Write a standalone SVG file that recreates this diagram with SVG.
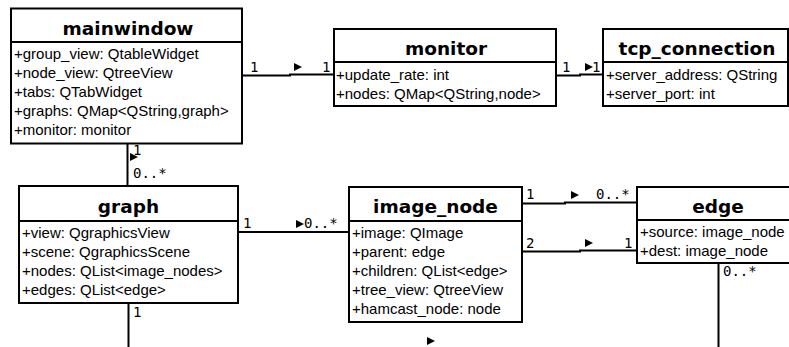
<svg xmlns="http://www.w3.org/2000/svg" xmlns:xlink="http://www.w3.org/1999/xlink" width="789" height="347" viewBox="0 0 789 347">
  <style>
    .box { fill: #ffffff; stroke: #000000; stroke-width: 2; }
    .sep { stroke: #000000; stroke-width: 2; }
    .title { font-family: "DejaVu Sans", "Liberation Sans", sans-serif; font-weight: bold; font-size: 18.5px; fill: #000000; text-anchor: middle; }
    .attr { font-family: "Liberation Sans", Arial, sans-serif; font-size: 15px; fill: #000000; }
    .wire { fill: none; stroke: #000000; stroke-width: 2; }
    .mult { font-family: "DejaVu Sans Mono", "Liberation Mono", monospace; font-size: 14px; fill: #000000; }
    .dir { fill: #000000; }
  </style>
  <defs>
    <!-- association reading-direction marker -->
    <path id="tri" d="M0,-4 L8,0 L0,4 Z"/>
  </defs>

  <!-- associations -->
  <g id="connectors">
    <polyline class="wire" points="242,75.5 290,75.5 290,74.5 334,74.5"/>
    <polyline class="wire" points="556,75.5 580,75.5 580,74.5 603,74.5"/>
    <line class="wire" x1="127.5" y1="143" x2="127.5" y2="186"/>
    <line class="wire" x1="238" y1="232" x2="349" y2="232"/>
    <polyline class="wire" points="522,203.5 565,203.5 565,202.5 637,202.5"/>
    <polyline class="wire" points="522,251.5 580,251.5 580,250.5 637,250.5"/>
    <line class="wire" x1="128.5" y1="303" x2="128.5" y2="347"/>
    <line class="wire" x1="718.5" y1="263" x2="718.5" y2="347"/>

    <use xlink:href="#tri" class="dir" x="294" y="67"/>
    <use xlink:href="#tri" class="dir" x="585" y="67"/>
    <use xlink:href="#tri" class="dir" x="130" y="157"/>
    <use xlink:href="#tri" class="dir" x="296" y="224"/>
    <use xlink:href="#tri" class="dir" x="571" y="195"/>
    <use xlink:href="#tri" class="dir" x="585" y="243"/>
    <use xlink:href="#tri" class="dir" x="427" y="341"/>

    <text class="mult" x="250" y="72">1</text>
    <text class="mult" x="322" y="72">1</text>
    <text class="mult" x="562" y="72">1</text>
    <text class="mult" x="592" y="72">1</text>
    <text class="mult" x="133" y="155">1</text>
    <text class="mult" x="133" y="178">0..*</text>
    <text class="mult" x="243" y="228">1</text>
    <text class="mult" x="304" y="228">0..*</text>
    <text class="mult" x="526" y="199">1</text>
    <text class="mult" x="596" y="199">0..*</text>
    <text class="mult" x="526" y="248">2</text>
    <text class="mult" x="624" y="248">1</text>
    <text class="mult" x="133" y="317">1</text>
    <text class="mult" x="723" y="276">0..*</text>
  </g>

  <g id="mainwindow">
    <rect class="box" x="11" y="8.5" width="231" height="135"/>
    <line class="sep" x1="11" y1="42" x2="242" y2="42"/>
    <text class="title" x="128" y="35">mainwindow</text>
    <text class="attr" x="14" y="59">+group_view: QtableWidget</text>
    <text class="attr" x="14" y="78">+node_view: QtreeView</text>
    <text class="attr" x="14" y="97">+tabs: QTabWidget</text>
    <text class="attr" x="14" y="116">+graphs: QMap&lt;QString,graph&gt;</text>
    <text class="attr" x="14" y="135">+monitor: monitor</text>
  </g>

  <g id="monitor">
    <rect class="box" x="334" y="29" width="222" height="77"/>
    <line class="sep" x1="334" y1="62" x2="556" y2="62"/>
    <text class="title" x="446" y="55">monitor</text>
    <text class="attr" x="336" y="80">+update_rate: int</text>
    <text class="attr" x="336" y="99">+nodes: QMap&lt;QString,node&gt;</text>
  </g>

  <g id="tcp_connection">
    <rect class="box" x="603" y="29" width="185" height="77"/>
    <line class="sep" x1="603" y1="62" x2="788" y2="62"/>
    <text class="title" x="697" y="55">tcp_connection</text>
    <text class="attr" x="606" y="80">+server_address: QString</text>
    <text class="attr" x="606" y="99">+server_port: int</text>
  </g>

  <g id="graph">
    <rect class="box" x="19" y="186" width="219" height="117"/>
    <line class="sep" x1="19" y1="221" x2="238" y2="221"/>
    <text class="title" x="128.5" y="213">graph</text>
    <text class="attr" x="22" y="238">+view: QgraphicsView</text>
    <text class="attr" x="22" y="257">+scene: QgraphicsScene</text>
    <text class="attr" x="22" y="276">+nodes: QList&lt;image_nodes&gt;</text>
    <text class="attr" x="22" y="295">+edges: QList&lt;edge&gt;</text>
  </g>

  <g id="image_node">
    <rect class="box" x="349" y="187" width="173" height="135"/>
    <line class="sep" x1="349" y1="221" x2="522" y2="221"/>
    <text class="title" x="435.5" y="213">image_node</text>
    <text class="attr" x="352" y="238">+image: QImage</text>
    <text class="attr" x="352" y="257">+parent: edge</text>
    <text class="attr" x="352" y="276">+children: QList&lt;edge&gt;</text>
    <text class="attr" x="352" y="295">+tree_view: QtreeView</text>
    <text class="attr" x="352" y="314">+hamcast_node: node</text>
  </g>

  <g id="edge">
    <rect class="box" x="637" y="187" width="170" height="76"/>
    <line class="sep" x1="637" y1="220" x2="807" y2="220"/>
    <text class="title" x="718" y="213">edge</text>
    <text class="attr" x="640" y="237">+source: image_node</text>
    <text class="attr" x="640" y="256">+dest: image_node</text>
  </g>
</svg>
